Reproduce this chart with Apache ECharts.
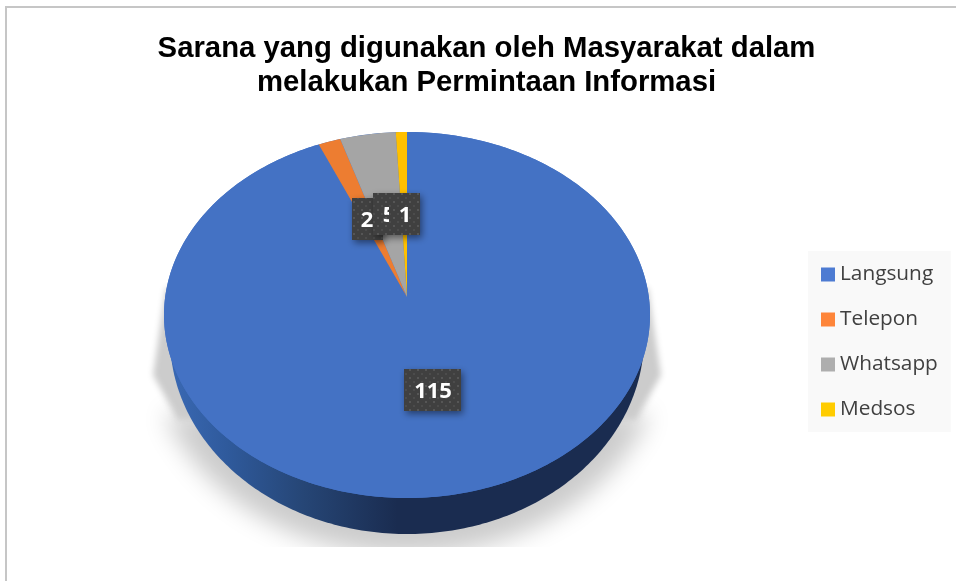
<!DOCTYPE html>
<html>
<head>
<meta charset="utf-8">
<style>
html, body { margin: 0; padding: 0; background: #fff; }
#chart { width: 956px; height: 581px; }
</style>
<script src="https://cdn.jsdelivr.net/npm/echarts@6/dist/echarts.min.js"></script>
</head>
<body>
<div id="chart"></div>
<script>
// data
var categories = ['Langsung', 'Telepon', 'Whatsapp', 'Medsos'];
var values = [115, 2, 5, 1];
var sliceColors = ['#4472C4', '#ED7D31', '#A5A5A5', '#FFC000'];
var legendColors = ['#4D7BD2', '#FE853A', '#AEAEAE', '#FFCC00'];
var titleText = 'Sarana yang digunakan oleh Masyarakat dalam\nmelakukan Permintaan Informasi';

// tilted pie geometry, the picture has an off-centre apex because of the perspective
var top_ = { cx: 407, cy: 315, rx: 243, ry: 183 };
var apex = { x: 407, y: 297 };
var wall = { cx: 407, cy: 338, rx: 237, ry: 196 };
var perspective = 0.907;
// label boxes: left/top of box, box size, text centre x
var labelBoxes = [
    { x: 404, y: 369, w: 57, h: 42, tx: 433 },
    { x: 352, y: 198, w: 31, h: 42, tx: 367 },
    { x: 373, y: 193, w: 40, h: 42, tx: 389 },
    { x: 373, y: 193, w: 47, h: 42, tx: 405 }
];

var total = values.reduce(function (a, b) { return a + b; }, 0);

function rimPoint(e, angle) {
    return [e.cx + e.rx * Math.sin(angle), e.cy - e.ry * Math.cos(angle)];
}

// slice angle seen through the tilt: the far side of the pie is squeezed
function projectAngle(angle) {
    var half = angle / 2;
    if (Math.abs(half - Math.PI / 2) < 1e-6) return Math.PI;
    var t = 2 * Math.atan(perspective * Math.tan(half));
    return t < 0 ? t + Math.PI * 2 : t;
}

function ellipsePoints(e) {
    var pts = [];
    for (var i = 0; i < 360; i++) {
        pts.push(rimPoint(e, i * Math.PI / 180));
    }
    return pts;
}

// only the blurred shadow of a polygon is seen, the polygon itself sits off the canvas
function blurredPolygon(points, blur) {
    var off = 3000;
    return {
        type: 'polygon',
        shape: { points: points.map(function (p) { return [p[0] - off, p[1]]; }) },
        style: { fill: '#cccccc', shadowColor: '#cccccc', shadowBlur: blur, shadowOffsetX: off },
        clipPath: { type: 'rect', shape: { x: 0, y: 0, width: 956, height: 547 } },
        silent: true
    };
}

// soft grey shadow under the pie
function shadowElements() {
    var e = { cx: 407, cy: 340, rx: 258, ry: 215 };
    var pts = [];
    for (var i = 250; i >= 110; i -= 2) {
        pts.push(rimPoint(e, i * Math.PI / 180));
    }
    return [
        blurredPolygon(pts, 24),
        blurredPolygon([[166, 288], [153, 375], [178, 420], [200, 420], [200, 288]], 6),
        blurredPolygon([[648, 288], [661, 375], [636, 420], [614, 420], [614, 288]], 6)
    ];
}

function sliceRender(index) {
    return function (params, api) {
        var before = 0;
        for (var i = 0; i < index; i++) before += values[i];
        var start = before / total * Math.PI * 2;
        var end = (before + api.value(0)) / total * Math.PI * 2;
        var pts = [[apex.x, apex.y]];
        var steps = Math.max(2, Math.ceil((end - start) * 180 / Math.PI));
        for (var s = 0; s <= steps; s++) {
            pts.push(rimPoint(top_, projectAngle(start + (end - start) * s / steps)));
        }
        var children = [];
        if (index === 0) {
            children = children.concat(shadowElements());
            children.push({
                type: 'polygon',
                shape: { points: ellipsePoints(wall) },
                style: {
                    fill: {
                        type: 'linear', x: 0, y: 0, x2: 1, y2: 0,
                        colorStops: [
                            { offset: 0, color: '#3a69b4' },
                            { offset: 0.12, color: '#2f5a9c' },
                            { offset: 0.28, color: '#264676' },
                            { offset: 0.48, color: '#1a2c50' },
                            { offset: 1, color: '#1a2c50' }
                        ]
                    }
                }
            });
            children.push({
                type: 'polygon',
                shape: { points: ellipsePoints(top_) },
                style: { fill: sliceColors[0] }
            });
        }
        children.push({
            type: 'polygon',
            shape: { points: pts },
            style: { fill: sliceColors[index] }
        });
        return { type: 'group', children: children };
    };
}

// dark dotted fill of the data labels
function dotPattern() {
    var c = document.createElement('canvas');
    c.width = 8;
    c.height = 8;
    var ctx = c.getContext('2d');
    ctx.fillStyle = '#404040';
    ctx.fillRect(0, 0, 8, 8);
    ctx.fillStyle = '#565656';
    ctx.fillRect(1, 1, 2, 2);
    ctx.fillStyle = '#4c4c4c';
    ctx.fillRect(5, 5, 2, 2);
    return { image: c, repeat: 'repeat' };
}
var labelFill = dotPattern();

function labelRender(params, api) {
    var b = labelBoxes[params.dataIndex];
    var isHiddenFive = params.dataIndex === 2;
    var text = {
        type: 'text',
        z2: isHiddenFive ? 30 : 20 + params.dataIndex,
        style: {
            text: String(api.value(0)),
            x: b.tx,
            y: b.y + b.h / 2 + 1.5,
            fill: '#fff',
            align: 'center',
            verticalAlign: 'middle',
            font: 'bold 22px "Open Sans"'
        }
    };
    if (isHiddenFive) {
        // the Whatsapp value is nearly covered by the Medsos label
        text.clipPath = { type: 'rect', shape: { x: 370, y: 190, width: 19, height: 50 } };
    }
    var boxStyle = { fill: labelFill };
    if (!isHiddenFive) {
        boxStyle.shadowColor = 'rgba(0,0,0,0.45)';
        boxStyle.shadowBlur = 7;
        boxStyle.shadowOffsetX = 2;
        boxStyle.shadowOffsetY = 3;
    }
    return {
        type: 'group',
        children: [{
            type: 'rect',
            z2: 10 + params.dataIndex,
            shape: { x: b.x, y: b.y, width: b.w, height: b.h },
            style: boxStyle
        }, text]
    };
}

var series = categories.map(function (name, i) {
    return {
        name: name,
        type: 'custom',
        coordinateSystem: 'none',
        z: 2 + (i === 0 ? 0 : 1),
        itemStyle: { color: legendColors[i] },
        renderItem: sliceRender(i),
        data: [[values[i]]],
        silent: true,
        animation: false
    };
});
series.push({
    name: 'labels',
    type: 'custom',
    coordinateSystem: 'none',
    z: 5,
    renderItem: labelRender,
    data: values.map(function (v) { return [v]; }),
    silent: true,
    animation: false
});

var myChart = echarts.init(document.getElementById('chart'), null, { renderer: 'canvas' });
var option = {
    animation: false,
    backgroundColor: '#fff',
    title: {
        text: titleText,
        left: 481.5,
        top: 27,
        textAlign: 'center',
        textStyle: {
            fontFamily: '"Liberation Sans"',
            fontWeight: 'bold',
            fontSize: 29.3,
            lineHeight: 34,
            color: '#000'
        }
    },
    legend: {
        orient: 'vertical',
        left: 808,
        top: 251,
        width: 143,
        padding: [10, 13, 9, 13],
        backgroundColor: '#F9F9F9',
        itemWidth: 14,
        itemHeight: 14,
        itemGap: 18,
        icon: 'rect',
        selectedMode: false,
        textStyle: { fontFamily: '"Open Sans"', fontSize: 20.8, lineHeight: 27, color: '#404040' },
        data: categories
    },
    graphic: [
        { type: 'rect', z: -1, shape: { x: 5, y: 6, width: 951, height: 2 }, style: { fill: '#c6c6c6' } },
        { type: 'rect', z: -1, shape: { x: 5, y: 6, width: 2, height: 575 }, style: { fill: '#c6c6c6' } }
    ],
    series: series
};
myChart.setOption(option);
</script>
</body>
</html>
